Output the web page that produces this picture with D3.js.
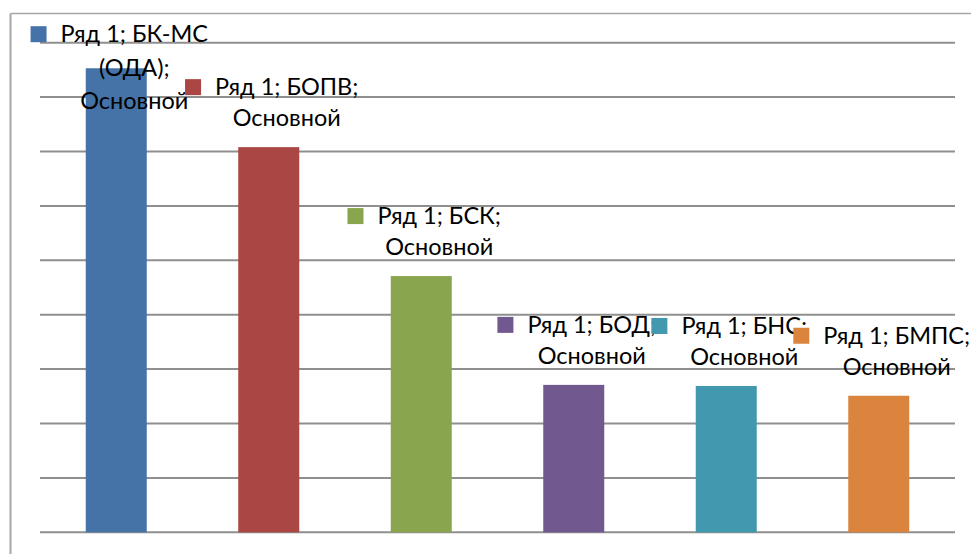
<!DOCTYPE html>
<html>
<head>
<meta charset="utf-8">
<script src="https://cdn.jsdelivr.net/npm/d3@7"></script>
<style>
  body { margin: 0; background: #fff; }
  svg { display: block; }
  .lbl { font-family: Lato, "Open Sans", sans-serif; font-size: 23.5px; fill: #000; }
</style>
</head>
<body>
<svg id="chart" width="971" height="554"></svg>
<script>
// chart data
var seriesName = "Ряд 1";
var groupName = "Основной";
var categories = ["БК-МС (ОДА)", "БОПВ", "БСК", "БОД", "БНС", "БМПС"];
var values = [8.53, 7.08, 4.71, 2.71, 2.69, 2.51];
var colors = ["#4572a7", "#aa4643", "#89a54e", "#71588f", "#4198af", "#db843d"];
var gridTicks = [0, 1, 2, 3, 4, 5, 6, 7, 8, 9];

var svg = d3.select("#chart");
var W = 971, H = 554;
var plot = { left: 40, right: 955, top: 42.7, bottom: 532.3 };

var x = d3.scaleBand()
    .domain(categories)
    .range([plot.left, plot.right])
    .paddingInner(0.6)
    .paddingOuter(0.3);

var y = d3.scaleLinear()
    .domain([0, 9])
    .range([plot.bottom, plot.top]);

// outer frame (only left + top visible in the crop)
svg.append("line")
    .attr("x1", 10.5).attr("y1", 13.5).attr("x2", W).attr("y2", 13.5)
    .attr("stroke", "#a6a6a6").attr("stroke-width", 1.5);
svg.append("line")
    .attr("x1", 10.5).attr("y1", 13.5).attr("x2", 10.5).attr("y2", H)
    .attr("stroke", "#a6a6a6").attr("stroke-width", 2);

// gridlines
svg.selectAll(".grid")
    .data(gridTicks)
    .enter().append("line")
    .attr("class", "grid")
    .attr("x1", plot.left).attr("x2", plot.right)
    .attr("y1", function(d) { return y(d); })
    .attr("y2", function(d) { return y(d); })
    .attr("stroke", "#8f8f8f")
    .attr("stroke-width", 2);

// bars
svg.selectAll(".bar")
    .data(values)
    .enter().append("rect")
    .attr("class", "bar")
    .attr("x", function(d, i) { return x(categories[i]); })
    .attr("width", x.bandwidth())
    .attr("y", function(d) { return y(d); })
    .attr("height", function(d) { return y(0) - y(d); })
    .attr("fill", function(d, i) { return colors[i]; });

// data labels with legend keys
var lineH = 31, maxW = 165;
var measure = svg.append("text").attr("class", "lbl").attr("visibility", "hidden");
function textW(s) { measure.text(s); return measure.node().getComputedTextLength(); }

function wrap(words) {
    var lines = [], cur = "";
    words.forEach(function(w) {
        var t = cur ? cur + " " + w : w;
        if (cur && textW(t) > maxW) { lines.push(cur); cur = w; }
        else cur = t;
    });
    if (cur) lines.push(cur);
    return lines;
}

values.forEach(function(v, i) {
    var label = seriesName + "; " + categories[i] + "; " + groupName;
    var lines = wrap(label.split(" "));
    var cx = x(categories[i]) + x.bandwidth() / 2 + 18;
    var lastBase = y(v) - 21;
    var firstBase = lastBase - lineH * (lines.length - 1);
    var gap = lineH;
    if (firstBase < plot.top) {
        // pushed down to stay inside the plot: first line moves up against the top
        firstBase = plot.top - 0.5;
        gap = lineH + 1.5;
    }
    var g = svg.append("g");
    lines.forEach(function(s, k) {
        g.append("text")
            .attr("class", "lbl")
            .attr("x", cx)
            .attr("y", firstBase + k * gap + (k > 0 && gap > lineH ? 1.5 : 0))
            .attr("text-anchor", "middle")
            .text(s);
    });
    var w0 = textW(lines[0]);
    g.append("rect")
        .attr("x", cx - w0 / 2 - 30)
        .attr("y", firstBase - 16)
        .attr("width", 16)
        .attr("height", 16)
        .attr("fill", colors[i]);
});
measure.remove();
</script>
</body>
</html>
